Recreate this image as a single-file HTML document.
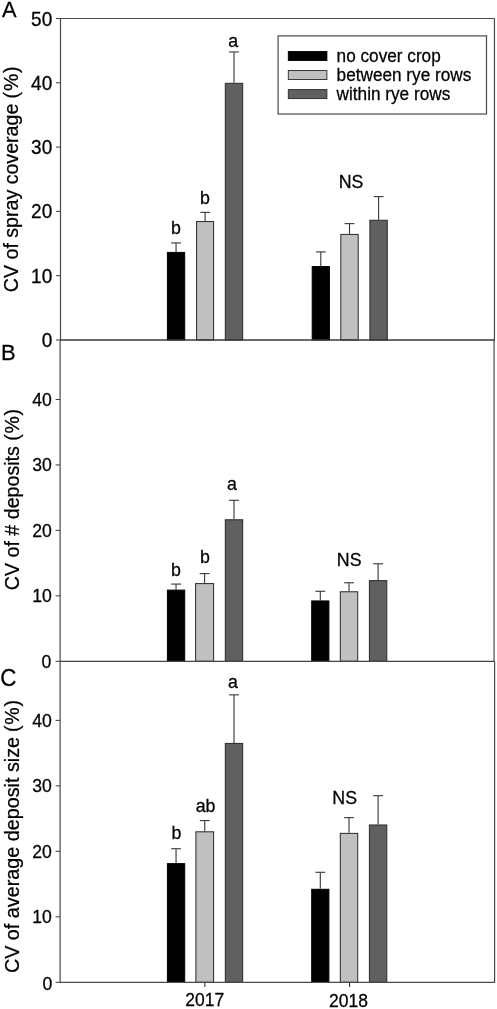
<!DOCTYPE html>
<html><head><meta charset="utf-8"><title>Figure</title>
<style>
html,body{margin:0;padding:0;background:#fff;}
body{width:497px;height:1009px;overflow:hidden;}
svg{display:block;will-change:transform;opacity:0.999;}
text{font-family:"Liberation Sans",sans-serif;fill:#000;stroke:#000;stroke-width:0.25px;}
</style></head><body>
<svg width="497" height="1009" viewBox="0 0 497 1009">
<rect x="0" y="0" width="497" height="1009" fill="#ffffff"/>
<!-- panel A -->
<line x1="176.05" y1="251.91" x2="176.05" y2="242.91" stroke="#363636" stroke-width="1.10"/>
<line x1="171.15" y1="242.91" x2="180.95" y2="242.91" stroke="#363636" stroke-width="1.10"/>
<rect x="167.40" y="252.41" width="17.30" height="87.59" fill="#000000" stroke="#000" stroke-width="1.0"/>
<line x1="205.10" y1="221.05" x2="205.10" y2="212.36" stroke="#363636" stroke-width="1.10"/>
<line x1="200.20" y1="212.36" x2="210.00" y2="212.36" stroke="#363636" stroke-width="1.10"/>
<rect x="196.60" y="221.55" width="17.00" height="118.45" fill="#c0c0c0" stroke="#282828" stroke-width="1.0"/>
<line x1="234.00" y1="82.80" x2="234.00" y2="51.94" stroke="#363636" stroke-width="1.10"/>
<line x1="229.10" y1="51.94" x2="238.90" y2="51.94" stroke="#363636" stroke-width="1.10"/>
<rect x="225.30" y="83.30" width="17.40" height="256.70" fill="#606060" stroke="#282828" stroke-width="1.0"/>
<line x1="320.80" y1="266.06" x2="320.80" y2="251.91" stroke="#363636" stroke-width="1.10"/>
<line x1="315.90" y1="251.91" x2="325.70" y2="251.91" stroke="#363636" stroke-width="1.10"/>
<rect x="312.20" y="266.56" width="17.20" height="73.44" fill="#000000" stroke="#000" stroke-width="1.0"/>
<line x1="349.50" y1="233.91" x2="349.50" y2="223.62" stroke="#363636" stroke-width="1.10"/>
<line x1="344.60" y1="223.62" x2="354.40" y2="223.62" stroke="#363636" stroke-width="1.10"/>
<rect x="340.80" y="234.41" width="17.40" height="105.59" fill="#c0c0c0" stroke="#282828" stroke-width="1.0"/>
<line x1="378.60" y1="219.76" x2="378.60" y2="196.61" stroke="#363636" stroke-width="1.10"/>
<line x1="373.70" y1="196.61" x2="383.50" y2="196.61" stroke="#363636" stroke-width="1.10"/>
<rect x="369.90" y="220.26" width="17.40" height="119.74" fill="#606060" stroke="#282828" stroke-width="1.0"/>
<text transform="translate(176.00,233.60) scale(1,1.04)" font-size="17.8" text-anchor="middle">b</text>
<text transform="translate(205.00,204.30) scale(1,1.04)" font-size="17.8" text-anchor="middle">b</text>
<text transform="translate(233.20,46.50) scale(1,1.04)" font-size="17.8" text-anchor="middle">a</text>
<text transform="translate(351.00,188.10) scale(1,1.04)" font-size="17.8" text-anchor="middle">NS</text>
<line x1="56.00" y1="340.00" x2="60.50" y2="340.00" stroke="#3c3c3c" stroke-width="1.00"/>
<text transform="translate(52.20,346.55) scale(1,1.04)" font-size="19.0" text-anchor="end">0</text>
<line x1="56.00" y1="275.70" x2="60.50" y2="275.70" stroke="#3c3c3c" stroke-width="1.00"/>
<text transform="translate(52.20,282.75) scale(1,1.04)" font-size="19.0" text-anchor="end">10</text>
<line x1="56.00" y1="211.40" x2="60.50" y2="211.40" stroke="#3c3c3c" stroke-width="1.00"/>
<text transform="translate(52.20,218.45) scale(1,1.04)" font-size="19.0" text-anchor="end">20</text>
<line x1="56.00" y1="147.10" x2="60.50" y2="147.10" stroke="#3c3c3c" stroke-width="1.00"/>
<text transform="translate(52.20,154.15) scale(1,1.04)" font-size="19.0" text-anchor="end">30</text>
<line x1="56.00" y1="82.80" x2="60.50" y2="82.80" stroke="#3c3c3c" stroke-width="1.00"/>
<text transform="translate(52.20,89.85) scale(1,1.04)" font-size="19.0" text-anchor="end">40</text>
<line x1="56.00" y1="18.50" x2="60.50" y2="18.50" stroke="#3c3c3c" stroke-width="1.00"/>
<text transform="translate(52.20,25.55) scale(1,1.04)" font-size="19.0" text-anchor="end">50</text>
<text transform="translate(17.60,292.20) rotate(-90) scale(1,1.04)" font-size="19.62" text-anchor="start">CV of spray coverage</text>
<text transform="translate(17.60,98.40) rotate(-90) scale(1,1.04)" font-size="19.5" text-anchor="start" letter-spacing="0.8">(%)</text>
<text transform="translate(1.95,17.35) scale(1,1.04)" font-size="21.8" text-anchor="start">A</text>
<line x1="60.50" y1="18.50" x2="60.50" y2="340.00" stroke="#4a4a4a" stroke-width="1.20"/>
<line x1="494.45" y1="18.50" x2="494.45" y2="340.00" stroke="#4a4a4a" stroke-width="1.20"/>
<line x1="60.00" y1="340.00" x2="494.95" y2="340.00" stroke="#383838" stroke-width="1.50"/>
<!-- panel B -->
<line x1="176.05" y1="589.63" x2="176.05" y2="584.07" stroke="#363636" stroke-width="1.10"/>
<line x1="171.15" y1="584.07" x2="180.95" y2="584.07" stroke="#363636" stroke-width="1.10"/>
<rect x="167.40" y="590.13" width="17.30" height="71.17" fill="#000000" stroke="#000" stroke-width="1.0"/>
<line x1="204.60" y1="583.09" x2="204.60" y2="573.60" stroke="#363636" stroke-width="1.10"/>
<line x1="199.70" y1="573.60" x2="209.50" y2="573.60" stroke="#363636" stroke-width="1.10"/>
<rect x="195.60" y="583.59" width="18.00" height="77.71" fill="#c0c0c0" stroke="#282828" stroke-width="1.0"/>
<line x1="234.00" y1="519.27" x2="234.00" y2="500.29" stroke="#363636" stroke-width="1.10"/>
<line x1="229.10" y1="500.29" x2="238.90" y2="500.29" stroke="#363636" stroke-width="1.10"/>
<rect x="225.30" y="519.77" width="17.40" height="141.53" fill="#606060" stroke="#282828" stroke-width="1.0"/>
<line x1="320.30" y1="600.43" x2="320.30" y2="591.27" stroke="#363636" stroke-width="1.10"/>
<line x1="315.40" y1="591.27" x2="325.20" y2="591.27" stroke="#363636" stroke-width="1.10"/>
<rect x="311.70" y="600.93" width="17.20" height="60.37" fill="#000000" stroke="#000" stroke-width="1.0"/>
<line x1="349.00" y1="591.27" x2="349.00" y2="582.76" stroke="#363636" stroke-width="1.10"/>
<line x1="344.10" y1="582.76" x2="353.90" y2="582.76" stroke="#363636" stroke-width="1.10"/>
<rect x="340.30" y="591.77" width="17.40" height="69.53" fill="#c0c0c0" stroke="#282828" stroke-width="1.0"/>
<line x1="378.10" y1="580.14" x2="378.10" y2="563.78" stroke="#363636" stroke-width="1.10"/>
<line x1="373.20" y1="563.78" x2="383.00" y2="563.78" stroke="#363636" stroke-width="1.10"/>
<rect x="369.40" y="580.64" width="17.40" height="80.66" fill="#606060" stroke="#282828" stroke-width="1.0"/>
<text transform="translate(176.00,576.00) scale(1,1.04)" font-size="17.8" text-anchor="middle">b</text>
<text transform="translate(205.00,563.30) scale(1,1.04)" font-size="17.8" text-anchor="middle">b</text>
<text transform="translate(231.90,490.10) scale(1,1.04)" font-size="17.8" text-anchor="middle">a</text>
<text transform="translate(349.20,566.30) scale(1,1.04)" font-size="17.8" text-anchor="middle">NS</text>
<line x1="55.60" y1="661.30" x2="60.10" y2="661.30" stroke="#3c3c3c" stroke-width="1.00"/>
<text transform="translate(51.30,668.35) scale(1,1.04)" font-size="17.6" text-anchor="end">0</text>
<line x1="55.60" y1="595.85" x2="60.10" y2="595.85" stroke="#3c3c3c" stroke-width="1.00"/>
<text transform="translate(51.80,602.10) scale(1,1.04)" font-size="17.6" text-anchor="end">10</text>
<line x1="55.60" y1="530.40" x2="60.10" y2="530.40" stroke="#3c3c3c" stroke-width="1.00"/>
<text transform="translate(51.80,536.65) scale(1,1.04)" font-size="17.6" text-anchor="end">20</text>
<line x1="55.60" y1="464.95" x2="60.10" y2="464.95" stroke="#3c3c3c" stroke-width="1.00"/>
<text transform="translate(51.80,471.20) scale(1,1.04)" font-size="17.6" text-anchor="end">30</text>
<line x1="55.60" y1="399.50" x2="60.10" y2="399.50" stroke="#3c3c3c" stroke-width="1.00"/>
<text transform="translate(51.80,405.75) scale(1,1.04)" font-size="17.6" text-anchor="end">40</text>
<text transform="translate(18.70,590.20) rotate(-90) scale(1,1.04)" font-size="19.65" text-anchor="start">CV of # deposits</text>
<text transform="translate(18.70,440.80) rotate(-90) scale(1,1.04)" font-size="19.5" text-anchor="start" letter-spacing="0.7">(%)</text>
<text transform="translate(1.05,360.05) scale(1,1.04)" font-size="22.0" text-anchor="start">B</text>
<line x1="60.10" y1="340.00" x2="60.10" y2="661.30" stroke="#4a4a4a" stroke-width="1.20"/>
<line x1="494.05" y1="340.00" x2="494.05" y2="661.30" stroke="#4a4a4a" stroke-width="1.20"/>
<line x1="59.60" y1="661.30" x2="494.55" y2="661.30" stroke="#444" stroke-width="1.15"/>
<!-- panel C -->
<line x1="176.05" y1="863.13" x2="176.05" y2="848.72" stroke="#363636" stroke-width="1.10"/>
<line x1="171.15" y1="848.72" x2="180.95" y2="848.72" stroke="#363636" stroke-width="1.10"/>
<rect x="167.40" y="863.63" width="17.30" height="118.67" fill="#000000" stroke="#000" stroke-width="1.0"/>
<line x1="204.75" y1="831.30" x2="204.75" y2="820.56" stroke="#363636" stroke-width="1.10"/>
<line x1="199.85" y1="820.56" x2="209.65" y2="820.56" stroke="#363636" stroke-width="1.10"/>
<rect x="195.90" y="831.80" width="17.70" height="150.50" fill="#c0c0c0" stroke="#282828" stroke-width="1.0"/>
<line x1="234.00" y1="742.91" x2="234.00" y2="694.84" stroke="#363636" stroke-width="1.10"/>
<line x1="229.10" y1="694.84" x2="238.90" y2="694.84" stroke="#363636" stroke-width="1.10"/>
<rect x="225.30" y="743.41" width="17.40" height="238.89" fill="#606060" stroke="#282828" stroke-width="1.0"/>
<line x1="320.30" y1="888.79" x2="320.30" y2="872.29" stroke="#363636" stroke-width="1.10"/>
<line x1="315.40" y1="872.29" x2="325.20" y2="872.29" stroke="#363636" stroke-width="1.10"/>
<rect x="311.70" y="889.29" width="17.20" height="93.01" fill="#000000" stroke="#000" stroke-width="1.0"/>
<line x1="349.00" y1="832.87" x2="349.00" y2="817.62" stroke="#363636" stroke-width="1.10"/>
<line x1="344.10" y1="817.62" x2="353.90" y2="817.62" stroke="#363636" stroke-width="1.10"/>
<rect x="340.30" y="833.37" width="17.40" height="148.93" fill="#c0c0c0" stroke="#282828" stroke-width="1.0"/>
<line x1="378.10" y1="824.49" x2="378.10" y2="795.68" stroke="#363636" stroke-width="1.10"/>
<line x1="373.20" y1="795.68" x2="383.00" y2="795.68" stroke="#363636" stroke-width="1.10"/>
<rect x="369.40" y="824.99" width="17.40" height="157.31" fill="#606060" stroke="#282828" stroke-width="1.0"/>
<text transform="translate(176.50,838.70) scale(1,1.04)" font-size="17.8" text-anchor="middle">b</text>
<text transform="translate(205.60,812.20) scale(1,1.04)" font-size="17.8" text-anchor="middle">ab</text>
<text transform="translate(233.00,688.10) scale(1,1.04)" font-size="17.8" text-anchor="middle">a</text>
<text transform="translate(344.70,804.40) scale(1,1.04)" font-size="17.8" text-anchor="middle">NS</text>
<line x1="55.60" y1="982.30" x2="60.10" y2="982.30" stroke="#3c3c3c" stroke-width="1.00"/>
<text transform="translate(52.30,990.05) scale(1,1.04)" font-size="17.6" text-anchor="end">0</text>
<line x1="55.60" y1="916.82" x2="60.10" y2="916.82" stroke="#3c3c3c" stroke-width="1.00"/>
<text transform="translate(51.80,923.07) scale(1,1.04)" font-size="17.6" text-anchor="end">10</text>
<line x1="55.60" y1="851.34" x2="60.10" y2="851.34" stroke="#3c3c3c" stroke-width="1.00"/>
<text transform="translate(51.80,857.59) scale(1,1.04)" font-size="17.6" text-anchor="end">20</text>
<line x1="55.60" y1="785.86" x2="60.10" y2="785.86" stroke="#3c3c3c" stroke-width="1.00"/>
<text transform="translate(51.80,792.11) scale(1,1.04)" font-size="17.6" text-anchor="end">30</text>
<line x1="55.60" y1="720.38" x2="60.10" y2="720.38" stroke="#3c3c3c" stroke-width="1.00"/>
<text transform="translate(51.80,726.63) scale(1,1.04)" font-size="17.6" text-anchor="end">40</text>
<text transform="translate(19.10,973.10) rotate(-90) scale(1,1.04)" font-size="19.78" text-anchor="start">CV of average deposit size</text>
<text transform="translate(19.10,732.00) rotate(-90) scale(1,1.04)" font-size="19.5" text-anchor="start" letter-spacing="0.8">(%)</text>
<text transform="translate(0.20,685.65) scale(1,1.04)" font-size="22.3" text-anchor="start">C</text>
<line x1="60.10" y1="661.30" x2="60.10" y2="982.30" stroke="#4a4a4a" stroke-width="1.20"/>
<line x1="494.60" y1="661.30" x2="494.60" y2="982.30" stroke="#4a4a4a" stroke-width="1.20"/>
<line x1="59.60" y1="982.30" x2="495.10" y2="982.30" stroke="#4a4a4a" stroke-width="1.20"/>
<line x1="60.00" y1="18.50" x2="495.00" y2="18.50" stroke="#4a4a4a" stroke-width="1.00"/>
<line x1="204.80" y1="982.30" x2="204.80" y2="986.90" stroke="#383838" stroke-width="1.10"/>
<text transform="translate(204.80,1005.80) scale(1,1.04)" font-size="17.5" text-anchor="middle">2017</text>
<line x1="349.60" y1="982.30" x2="349.60" y2="986.90" stroke="#383838" stroke-width="1.10"/>
<text transform="translate(348.50,1006.70) scale(1,1.04)" font-size="17.5" text-anchor="middle">2018</text>
<!-- legend -->
<rect x="278.1" y="35.9" width="208.4" height="78.1" fill="#fff" stroke="#4a4a4a" stroke-width="1.2"/>
<rect x="288.3" y="51.50" width="38.6" height="9.0" fill="#000000" stroke="#000" stroke-width="0.9"/>
<text transform="translate(336.60,62.20) scale(1,1.04)" font-size="17.2" text-anchor="start">no cover crop</text>
<rect x="288.3" y="70.55" width="38.6" height="9.0" fill="#c0c0c0" stroke="#282828" stroke-width="0.9"/>
<text transform="translate(336.60,81.25) scale(1,1.04)" font-size="17.2" text-anchor="start">between rye rows</text>
<rect x="288.3" y="89.60" width="38.6" height="9.0" fill="#606060" stroke="#282828" stroke-width="0.9"/>
<text transform="translate(336.60,100.30) scale(1,1.04)" font-size="17.2" text-anchor="start">within rye rows</text>
</svg>
</body></html>
